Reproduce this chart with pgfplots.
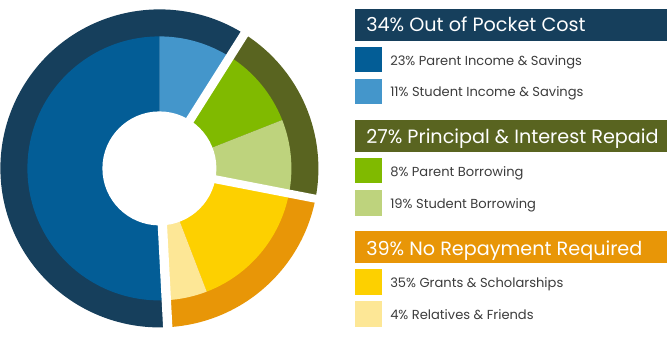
\documentclass[border=0pt]{standalone}
\usepackage{pgfplots}
\pgfplotsset{compat=1.18}
\usepackage{fontspec}
\setmainfont{Poppins}
\definecolor{navyO}{HTML}{163F5C}
\definecolor{blueD}{HTML}{035D96}
\definecolor{blueL}{HTML}{4496CB}
\definecolor{oliveO}{HTML}{596420}
\definecolor{greenB}{HTML}{80BA00}
\definecolor{greenL}{HTML}{BED37D}
\definecolor{orangeO}{HTML}{E89607}
\definecolor{yellowB}{HTML}{FDD000}
\definecolor{yellowL}{HTML}{FDE796}
\definecolor{txt}{HTML}{3C3C3C}
\begin{document}
\begin{tikzpicture}
\useasboundingbox (0pt,0pt) rectangle (500.25pt,-254.25pt);
\begin{axis}[at={(119.55pt,-126.3pt)},anchor=center,scale only axis,width=240pt,height=240pt,
  xmin=-160,xmax=160,ymin=-160,ymax=160,hide axis,clip=false]
% outer ring groups (start angle, end angle)
\fill[navyO] (axis cs:0,0) -- (57.7:159) arc[start angle=57.7,end angle=273,radius=159] -- cycle;
\fill[oliveO] (axis cs:0,0) -- (-11:159) arc[start angle=-11,end angle=57.7,radius=159] -- cycle;
\fill[orangeO] (axis cs:0,0) -- (-87:159) arc[start angle=-87,end angle=-11,radius=159] -- cycle;
% inner slices
\fill[blueD] (axis cs:0,0) -- (90:132) arc[start angle=90,end angle=273,radius=132] -- cycle;
\fill[blueL] (axis cs:0,0) -- (57.7:132) arc[start angle=57.7,end angle=90,radius=132] -- cycle;
\fill[greenB] (axis cs:0,0) -- (21.5:132) arc[start angle=21.5,end angle=57.7,radius=132] -- cycle;
\fill[greenL] (axis cs:0,0) -- (-11:132) arc[start angle=-11,end angle=21.5,radius=132] -- cycle;
\fill[yellowB] (axis cs:0,0) -- (-69:132) arc[start angle=-69,end angle=-11,radius=132] -- cycle;
\fill[yellowL] (axis cs:0,0) -- (-87:132) arc[start angle=-87,end angle=-69,radius=132] -- cycle;
% gaps
\draw[white,line width=6.5pt] (axis cs:0,0) -- (57.7:170);
\draw[white,line width=6pt] (axis cs:0,0) -- (-11:170);
\draw[white,line width=7pt] (axis cs:0,0) -- (-87:170);
\fill[white] (axis cs:0,0) circle[radius=57];
\end{axis}
\begin{scope}[x=0.75pt,y=-0.75pt]
\fill[navyO] (355,9) rectangle (667,41);
\fill[oliveO] (355,120) rectangle (667,152);
\fill[orangeO] (355,231) rectangle (667,263);
\tikzset{hdr/.style={anchor=base west,inner sep=0pt,text=white,font=\fontsize{14.4}{16}\selectfont}}
\node[hdr] at (366,31.7) {34\% Out of Pocket Cost};
\node[hdr] at (366,143) {27\% Principal \& Interest Repaid};
\node[hdr] at (366,255) {39\% No Repayment Required};
\fill[blueD] (355,47) rectangle (382,72);
\fill[blueL] (355,79) rectangle (382,104);
\fill[greenB] (355,158) rectangle (382,183);
\fill[greenL] (355,190) rectangle (382,216);
\fill[yellowB] (355,269) rectangle (382,295);
\fill[yellowL] (355,301) rectangle (382,327);
\tikzset{itm/.style={anchor=base west,inner sep=0pt,text=txt,font=\fontsize{9.8}{12}\selectfont}}
\node[itm] at (390,65) {23\% Parent Income \& Savings};
\node[itm] at (390,96.5) {11\% Student Income \& Savings};
\node[itm] at (390,176) {8\% Parent Borrowing};
\node[itm] at (390,208) {19\% Student Borrowing};
\node[itm] at (390,287.5) {35\% Grants \& Scholarships};
\node[itm] at (390,319.5) {4\% Relatives \& Friends};
\end{scope}
\end{tikzpicture}
\end{document}
